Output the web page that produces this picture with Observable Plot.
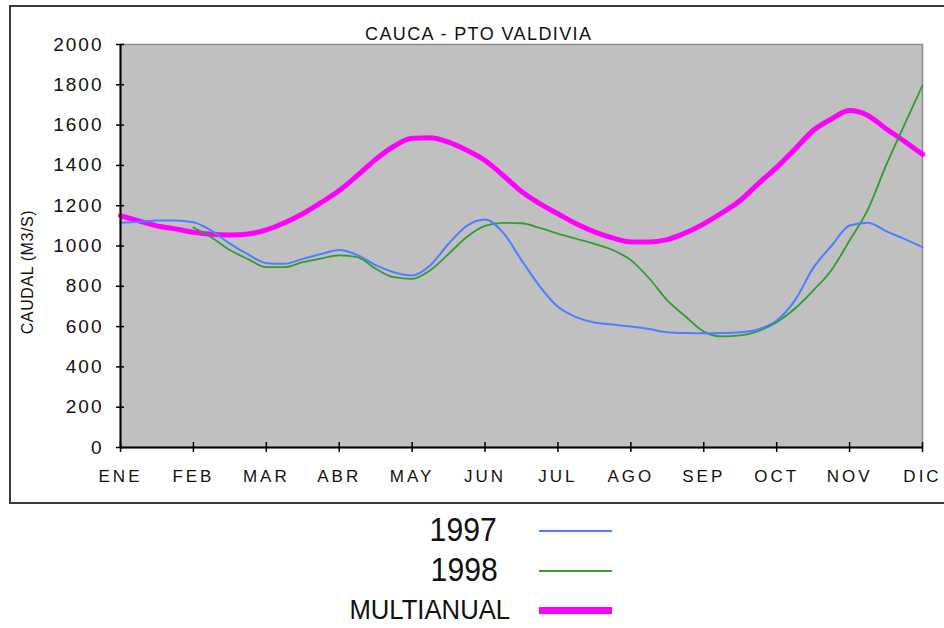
<!DOCTYPE html>
<html>
<head>
<meta charset="utf-8">
<script src="https://cdn.jsdelivr.net/npm/d3@7"></script>
<script src="https://cdn.jsdelivr.net/npm/@observablehq/plot@0.6"></script>
<style>
  html, body { margin: 0; padding: 0; background: #fff; overflow: hidden; width: 944px; height: 628px; }
  #wrap { position: relative; width: 944px; height: 628px; }
  #box { position: absolute; left: 9px; top: 5px; width: 945px; height: 499px; border: 2px solid #3a3a3a; box-sizing: border-box; }
  #chart { position: absolute; left: 0; top: 0; }
  #title { position: absolute; left: 365px; top: 25px; font-family: "Liberation Sans", Arial, sans-serif; font-size: 18px; line-height: 18px; color: #111; white-space: nowrap; letter-spacing: 1.4px; }
  #ylabel { position: absolute; left: 0; top: 0; font-family: "Liberation Sans", Arial, sans-serif; font-size: 16px; line-height: 16px; color: #111; white-space: nowrap; letter-spacing: 0.6px; }
  .lg-text { position: absolute; font-family: "Liberation Sans", Arial, sans-serif; color: #111; white-space: nowrap; transform-origin: right center; }
  .lg-line { position: absolute; left: 539px; width: 73px; }
  .chart g[aria-label="x-axis tick label"] text { letter-spacing: 3px; }
  .chart g[aria-label="y-axis tick label"] text { letter-spacing: 2px; }
</style>
</head>
<body>
<div id="wrap">
  <div id="box"></div>
  <div id="chart"></div>
  <div id="title"></div>
  <div id="ylabel"></div>
  <div id="legend"></div>
</div>
<script>
// ---- data ----
const title = "CAUCA - PTO VALDIVIA";
const yLabel = "CAUDAL (M3/S)";
const months = ["ENE","FEB","MAR","ABR","MAY","JUN","JUL","AGO","SEP","OCT","NOV","DIC"];
const yTicks = [0,200,400,600,800,1000,1200,1400,1600,1800,2000];
const seriesNames = ["1997","1998","MULTIANUAL"];
const seriesColors = ["#4f7dff","#349a34","#ff00ff"];
// values every quarter month, from ENE (0) to DIC (11)
const q1997 = [1115,1120,1127,1127,1118,1075,1012,958,915,912,936,960,980,955,905,870,854,905,1011,1100,1131,1065,930,800,698,647,620,610,600,588,572,568,567,568,572,587,630,730,890,1000,1102,1115,1074,1035,994];
const q1998 = [null,null,null,null,1092,1042,980,935,895,895,920,938,953,945,887,845,837,880,961,1045,1100,1115,1113,1090,1061,1036,1011,980,930,840,730,650,575,551,556,578,622,690,779,880,1027,1180,1400,1600,1797];
const qMulti = [1150,1125,1100,1085,1068,1058,1055,1060,1080,1115,1160,1215,1275,1350,1430,1495,1535,1537,1515,1475,1424,1350,1270,1210,1160,1110,1070,1040,1020,1020,1032,1065,1110,1165,1226,1310,1390,1480,1573,1630,1672,1648,1582,1520,1455];

const toRows = (vals) => vals.map((v, i) => ({x: i / 4, v}));
const rows1997 = toRows(q1997);
const rows1998 = toRows(q1998).filter(d => d.v != null);
const rowsMulti = toRows(qMulti);

const chart = Plot.plot({
  width: 944,
  height: 505,
  marginLeft: 120,
  marginRight: 22,
  marginTop: 44,
  marginBottom: 58,
  className: "chart",
  style: {fontFamily: "'Liberation Sans', Arial, sans-serif", background: "transparent", color: "#111", overflow: "visible"},
  x: {domain: [0, 11]},
  y: {domain: [0, 2000]},
  marks: [
    Plot.frame({fill: "#c0c0c0", stroke: "#8c8c8c", strokeWidth: 1.5}),
    Plot.line(rowsMulti, {x: "x", y: "v", stroke: seriesColors[2], strokeWidth: 5, curve: "monotone-x"}),
    Plot.line(rows1998, {x: "x", y: "v", stroke: seriesColors[1], strokeWidth: 1.8, curve: "monotone-x"}),
    Plot.line(rows1997, {x: "x", y: "v", stroke: seriesColors[0], strokeWidth: 2, curve: "monotone-x"}),
    Plot.ruleX([0], {stroke: "#000", strokeWidth: 2}),
    Plot.ruleY([0], {stroke: "#000", strokeWidth: 2}),
    Plot.axisY(yTicks, {tickSize: 8, dx: 4, tickPadding: 13, fontSize: 19, label: null, tickFormat: d => String(d), stroke: "#000", strokeWidth: 1.5}),
    Plot.axisX(d3.range(12), {tickSize: 10, dy: -5, tickPadding: 17, fontSize: 17, label: null, tickFormat: i => months[i], stroke: "#000", strokeWidth: 1.5})
  ]
});
document.getElementById("chart").appendChild(chart);
document.getElementById("title").textContent = title;

// rotated y label centred at (28, 272)
const yl = document.getElementById("ylabel");
yl.textContent = yLabel;
const w = yl.offsetWidth, h = yl.offsetHeight;
yl.style.left = (28 - w / 2) + "px";
yl.style.top = (272 - h / 2) + "px";
yl.style.transform = "rotate(-90deg)";

// legend
const legend = document.getElementById("legend");
const lgSpec = [
  {right: 497, top: 512, size: 34, scale: 0.886, lineY: 530, lineW: 2},
  {right: 498, top: 552, size: 34, scale: 0.886, lineY: 570, lineW: 2},
  {right: 510, top: 597, size: 27, scale: 0.95, lineY: 607, lineW: 7}
];
seriesNames.forEach((name, i) => {
  const s = lgSpec[i];
  const t = document.createElement("div");
  t.className = "lg-text";
  t.textContent = name;
  t.style.fontSize = s.size + "px";
  t.style.lineHeight = s.size + "px";
  t.style.right = (944 - s.right) + "px";
  t.style.top = s.top + "px";
  t.style.transform = `scaleX(${s.scale})`;
  legend.appendChild(t);
  const l = document.createElement("div");
  l.className = "lg-line";
  l.style.top = s.lineY + "px";
  l.style.height = s.lineW + "px";
  l.style.background = seriesColors[i];
  legend.appendChild(l);
});
</script>
</body>
</html>
